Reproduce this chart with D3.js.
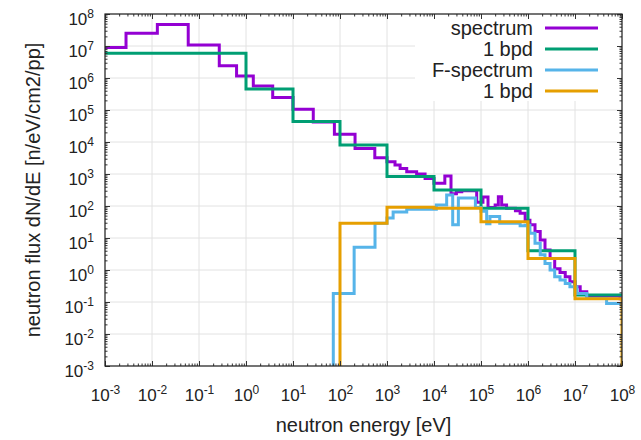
<!DOCTYPE html>
<html>
<head>
<meta charset="utf-8">
<script src="https://cdn.jsdelivr.net/npm/d3@7"></script>
<style>
  body { margin: 0; background: #fff; }
  svg { font-family: "Liberation Sans", Arial, sans-serif; }
  .grid line { stroke: #e2e2e2; stroke-width: 1; }
  .axis line { stroke: #333; }
  .axis path { display: none; }
  .axis text { fill: #222; font-size: 17px; }
  .series { fill: none; stroke-width: 3; stroke-linejoin: miter; }
</style>
</head>
<body>
<svg id="chart" width="641" height="440"></svg>
<script>
// decade ticks, both axes
var decades = [1e-3, 1e-2, 1e-1, 1e0, 1e1, 1e2, 1e3, 1e4, 1e5, 1e6, 1e7, 1e8];

// spectrum (bin edges in eV, flux per bin)
var specEdges = [1e-3, 2.8e-3, 1.3e-2, 5.9e-2, 0.27, 0.63, 1.43, 3.7, 10, 27, 76, 209, 550,
  1000, 1480, 1900, 2630, 4270, 6460, 1e4, 1.7e4, 2.3e4, 3.0e4, 3.9e4, 8.1e4,
  1.1e5, 1.41e5, 2.0e5, 2.34e5, 2.75e5, 3.5e5, 5.4e5, 6.8e5, 8.7e5, 1.1e6, 1.41e6,
  1.82e6, 2.3e6, 2.95e6, 3.7e6, 4.8e6, 6.2e6, 7.8e6, 1e7, 1.29e7, 1.78e7, 9.1e7, 1e8];
var specFlux = [8.9e6, 2.5e7, 4.7e7, 1.07e7, 2.4e6, 1.15e6, 5.6e5, 2.45e5, 1.05e5, 4.2e4, 1.74e4,
  6300, 3200, 2400, 1900, 1480, 1170, 1000, 720, 510, 870, 240, 280, 300,
  132, 190, 89, 107, 195, 107, 85, 71, 59, 36, 26, 16, 8.7, 4.2, 2.3,
  1.1, 0.83, 0.62, 0.43, 0.30, 0.21, 0.155, 0.126];

// spectrum, 1 bin per decade
var specBpdEdges = [1e-3, 1, 10, 100, 1e3, 1e4, 1e5, 1e6, 1e7, 1e8];
var specBpdFlux = [5.9e6, 4.5e5, 4.4e4, 8100, 830, 316, 85, 4.0, 0.166];

// F-spectrum
var fEdges = [72, 200, 556, 1000, 1350, 2630, 1.12e4, 1.86e4, 2.5e4, 3.3e4, 7.6e4, 1e5,
  1.32e5, 1.55e5, 2.5e5, 6.8e5, 8.7e5, 1.1e6, 1.41e6, 1.82e6, 2.3e6, 2.95e6, 3.7e6,
  4.8e6, 6.2e6, 7.8e6, 1.1e7, 1.78e7, 4.7e7, 1e8];
var fFlux = [0.186, 5.1, 29, 42, 65, 79, 107, 220, 26, 178, 89, 69, 28, 47, 29, 24, 25,
  14, 6.8, 3.0, 1.6, 1.0, 0.62, 0.49, 0.38, 0.30, 0.186, 0.129, 0.089];

// F-spectrum, 1 bin per decade
var fBpdEdges = [100, 1e3, 1e4, 1e5, 1e6, 1e7, 1e8];
var fBpdFlux = [29, 91, 85, 32, 2.3, 0.126];

var names = ["spectrum", "1 bpd", "F-spectrum", "1 bpd"];
var colors = ["#9400d3", "#009e73", "#56b4e9", "#e69f00"];

var svg = d3.select("#chart"),
    margin = {left: 105, right: 19, top: 14, bottom: 74},
    width = +svg.attr("width") - margin.left - margin.right,
    height = +svg.attr("height") - margin.top - margin.bottom;

var g = svg.append("g").attr("transform", "translate(" + margin.left + "," + margin.top + ")");

var x = d3.scaleLog().domain([1e-3, 1e8]).range([0, width]);
var y = d3.scaleLog().domain([1e-3, 1e8]).range([height, 0]);

var minors = [];
decades.slice(0, -1).forEach(function(d) {
  for (var k = 2; k < 10; k++) minors.push(d * k);
});

/* grid */
var grid = g.append("g").attr("class", "grid");
grid.selectAll(".gx").data(decades).enter().append("line")
  .attr("x1", x).attr("x2", x).attr("y1", 0).attr("y2", height);
grid.selectAll(".gy").data(decades).enter().append("line")
  .attr("y1", y).attr("y2", y).attr("x1", 0).attr("x2", width);

/* legend box hides grid */
var legendLeft = 310;
g.append("rect")
  .attr("x", legendLeft).attr("y", 1)
  .attr("width", width - legendLeft - 1).attr("height", 86)
  .attr("fill", "#fff");

/* data */
svg.append("defs").append("clipPath").attr("id", "plot-clip")
  .append("rect").attr("width", width).attr("height", height);

var floor = 1e-4;
var steps = function(edges, flux, fromFloor, toFloor) {
  var pts = [];
  if (fromFloor) pts.push([edges[0], floor]);
  flux.forEach(function(v, i) { pts.push([edges[i], v]); });
  pts.push([edges[edges.length - 1], flux[flux.length - 1]]);
  if (toFloor) pts.push([edges[edges.length - 1], floor]);
  return pts;
};

var series = [
  steps(specEdges, specFlux, false, false),
  steps(specBpdEdges, specBpdFlux, false, false),
  steps(fEdges, fFlux, true, false),
  steps(fBpdEdges, fBpdFlux, true, true)
];

var line = d3.line()
  .x(function(d) { return x(d[0]); })
  .y(function(d) { return y(d[1]); })
  .curve(d3.curveStepAfter);

g.append("g").attr("clip-path", "url(#plot-clip)")
  .selectAll("path").data(series).enter().append("path")
  .attr("class", "series")
  .attr("stroke", function(d, i) { return colors[i]; })
  .attr("d", line);

/* axes */
var superLabel = function(sel) {
  sel.selectAll(".tick text").each(function(d) {
    var t = d3.select(this).text("10");
    t.append("tspan").attr("dy", "-7").attr("font-size", "12px")
      .text(Math.round(Math.log10(d)));
  });
};

g.append("g").attr("class", "axis").attr("transform", "translate(0," + height + ")")
  .call(d3.axisBottom(x).tickValues(minors).tickSize(-2.5).tickFormat(""));
g.append("g").attr("class", "axis").attr("transform", "translate(0," + height + ")")
  .call(d3.axisBottom(x).tickValues(decades).tickSize(-5).tickPadding(23))
  .call(superLabel);
g.append("g").attr("class", "axis")
  .call(d3.axisTop(x).tickValues(minors).tickSize(-2.5).tickFormat(""));
g.append("g").attr("class", "axis")
  .call(d3.axisTop(x).tickValues(decades).tickSize(-5).tickFormat(""));

g.append("g").attr("class", "axis")
  .call(d3.axisLeft(y).tickValues(minors).tickSize(-2.5).tickFormat(""));
g.append("g").attr("class", "axis")
  .call(d3.axisLeft(y).tickValues(decades).tickSize(-5).tickPadding(11))
  .call(superLabel)
  .selectAll(".tick text").attr("dy", "0.64em");
g.append("g").attr("class", "axis").attr("transform", "translate(" + width + ",0)")
  .call(d3.axisRight(y).tickValues(minors).tickSize(-2.5).tickFormat(""));
g.append("g").attr("class", "axis").attr("transform", "translate(" + width + ",0)")
  .call(d3.axisRight(y).tickValues(decades).tickSize(-5).tickFormat(""));

g.append("rect")
  .attr("width", width).attr("height", height)
  .attr("fill", "none").attr("stroke", "#222").attr("stroke-width", 1.2);

/* titles */
svg.append("text")
  .attr("x", margin.left + width / 2).attr("y", 432)
  .attr("text-anchor", "middle").attr("font-size", "20px").attr("fill", "#222")
  .text("neutron energy [eV]");
svg.append("text")
  .attr("transform", "translate(40," + (margin.top + height / 2) + ") rotate(-90)")
  .attr("text-anchor", "middle").attr("font-size", "20px").attr("fill", "#222")
  .text("neutron flux dN/dE [n/eV/cm2/pp]");

/* legend */
var legend = g.append("g").selectAll("g").data(names).enter().append("g")
  .attr("transform", function(d, i) { return "translate(0," + (14 + i * 21) + ")"; });
legend.append("text")
  .attr("x", 428).attr("dy", "0.35em")
  .attr("text-anchor", "end").attr("font-size", "20px").attr("fill", "#222")
  .text(function(d) { return d; });
legend.append("line")
  .attr("x1", 440).attr("x2", 493)
  .attr("stroke", function(d, i) { return colors[i]; })
  .attr("stroke-width", 3);
</script>
</body>
</html>
